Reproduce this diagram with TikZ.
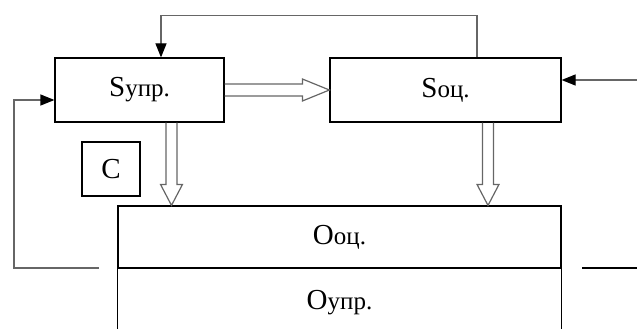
\documentclass[tikz,border=0pt]{standalone}
\usepackage{fontspec}
\setmainfont{Liberation Serif}
\usetikzlibrary{arrows.meta,calc}
\tikzset{
  blk/.style={draw=black,line width=1.2pt,minimum width=#1,inner sep=0pt},
  conn/.style={draw=black!60,line width=1.2pt},
  tip/.style={-{Triangle[length=14pt,width=11pt,color=black,fill=black]}},
  lbl/.style={font=\fontsize{25}{28}\selectfont}
}
\newcommand{\capL}[1]{{\fontsize{29}{30}\selectfont #1}}
\begin{document}
\begin{tikzpicture}[x=1pt,y=-1pt]
\useasboundingbox (0,0) rectangle (637,329);
\clip (0,0) rectangle (637,329);
\node[blk=169pt,minimum height=64pt,lbl] (su) at (139.5,90) {\capL{S}упр.};
\node[blk=231pt,minimum height=64pt,lbl] (so) at (445.5,90) {\capL{S}оц.};
\node[blk=58pt,minimum height=54pt,lbl] (c) at (111,169) {\capL{C}};
\node[blk=443pt,minimum height=62pt,lbl] (oo) at (339.5,237) {\capL{O}оц.};
\node[blk=443pt,draw=none,minimum height=70pt,lbl,anchor=north] (ou) at (oo.south) {};
\draw[line width=1.2pt] (ou.north west) -- (ou.south west) (ou.north east) -- (ou.south east);
\node[lbl] at (339.5,303) {\capL{O}упр.};
% top feedback
\draw[conn,tip] ($(so.north)+(31.5,0)$) -- ++(0,-42) -| ($(su.north)+(21.5,0)$);
% right input
\coordinate (rin) at (637,80);
\draw[conn,tip] (rin) -- (so.east |- rin);
% left feedback
\coordinate (lf) at (99,268);
\draw[conn,tip] (lf) -- (14,268) |- ($(su.west)+(0,10)$);
% right line
\coordinate (rl1) at (582,268);
\coordinate (rl2) at (637,268);
\draw[conn,draw=black] (rl1) -- (rl2);
% hollow horizontal arrow
\draw[conn,line join=miter] let \p1=(su.east), \p2=(so.west) in
  (\x1,\y1+6) -- (\x2-27,\y1+6) -- (\x2-27,\y1+11) -- (\x2,\y1) -- (\x2-27,\y1-11) -- (\x2-27,\y1-6) -- (\x1,\y1-6);
% hollow vertical arrows
\draw[conn,line join=miter] let \p1=($(su.south)+(32,0)$), \p2=(oo.north) in
  (\x1-5.5,\y1) -- (\x1-5.5,\y2+21) -- (\x1-11,\y2+21) -- (\x1,\y2) -- (\x1+11,\y2+21) -- (\x1+5.5,\y2+21) -- (\x1+5.5,\y1);
\draw[conn,line join=miter] let \p1=($(so.south)+(42.5,0)$), \p2=(oo.north) in
  (\x1-5.5,\y1) -- (\x1-5.5,\y2+21) -- (\x1-11,\y2+21) -- (\x1,\y2) -- (\x1+11,\y2+21) -- (\x1+5.5,\y2+21) -- (\x1+5.5,\y1);
\end{tikzpicture}
\end{document}
